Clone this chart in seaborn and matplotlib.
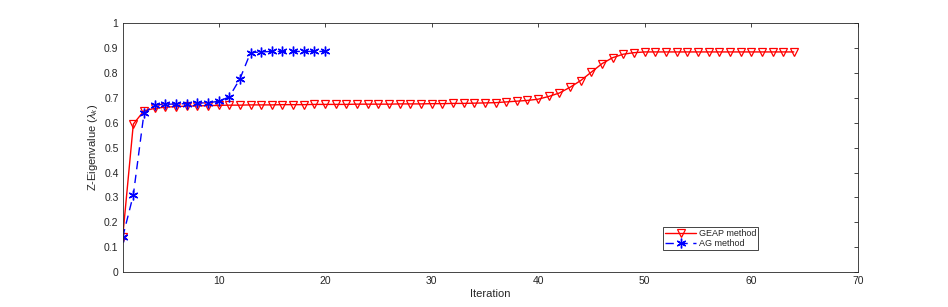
import numpy as np
import pandas as pd
import matplotlib
matplotlib.use("Agg")
import matplotlib.pyplot as plt
import seaborn as sns

geap_iter = list(range(1, 65))
geap_vals = [0.140, 0.595, 0.648, 0.658, 0.663, 0.665, 0.667, 0.668, 0.669, 0.670,
             0.671, 0.671, 0.672, 0.672, 0.672, 0.673, 0.673, 0.673, 0.674, 0.674,
             0.674, 0.674, 0.675, 0.675, 0.675, 0.675, 0.676, 0.676, 0.676, 0.677,
             0.677, 0.678, 0.678, 0.679, 0.680, 0.681, 0.684, 0.687, 0.690, 0.695,
             0.706, 0.720, 0.743, 0.770, 0.804, 0.838, 0.862, 0.876, 0.882, 0.885,
             0.885, 0.885, 0.885, 0.885, 0.885, 0.885, 0.885, 0.885, 0.885, 0.885,
             0.885, 0.885, 0.885, 0.885]
ag_iter = list(range(1, 21))
ag_vals = [0.140, 0.310, 0.638, 0.673, 0.674, 0.676, 0.677, 0.679, 0.681, 0.686,
           0.704, 0.776, 0.882, 0.885, 0.887, 0.887, 0.887, 0.887, 0.887, 0.887]

xticks = [10, 20, 30, 40, 50, 60, 70]
yticks = [0, 0.1, 0.2, 0.3, 0.4, 0.5, 0.6, 0.7, 0.8, 0.9, 1]
ytick_labels = ["0", "0.1", "0.2", "0.3", "0.4", "0.5", "0.6", "0.7", "0.8", "0.9", "1"]

sns.set_style("white")
plt.rcParams['font.family'] = ['Liberation Sans', 'DejaVu Sans']
plt.rcParams['mathtext.fontset'] = 'custom'
plt.rcParams['mathtext.rm'] = 'Liberation Sans'
plt.rcParams['mathtext.it'] = 'Liberation Sans:italic'

fig = plt.figure(figsize=(9.48, 3.07), dpi=100)
ax = fig.add_axes([0.1294, 0.114, 0.7754, 0.810])

df_g = pd.DataFrame({"Iteration": geap_iter, "val": geap_vals})
df_a = pd.DataFrame({"Iteration": ag_iter, "val": ag_vals})

sns.lineplot(data=df_g, x="Iteration", y="val", ax=ax, color="red", lw=1.0,
             marker="v", markersize=5.5, markerfacecolor="none", markeredgecolor="red",
             markeredgewidth=0.9, label="GEAP method")
sns.lineplot(data=df_a, x="Iteration", y="val", ax=ax, color="blue", lw=1.0,
             linestyle=(0, (6, 4)), marker=(6, 2, 0), markersize=7,
             markeredgecolor="blue", markeredgewidth=1.0, label="AG method")

ax.set_xlim(1, 70)
ax.set_ylim(0, 1)
ax.set_xticks(xticks)
ax.set_yticks(yticks)
ax.set_yticklabels(ytick_labels)
ax.set_xlabel("Iteration", fontsize=8, color="#262626", labelpad=2)
ax.set_ylabel(r"Z-Eigenvalue ($\lambda_k$)", fontsize=8, color="#262626", labelpad=3)
ax.tick_params(direction="in", length=3, width=0.6, colors="#262626", labelsize=7.5,
               top=True, right=True, pad=3)
for s in ax.spines.values():
    s.set_visible(True)
    s.set_color("#262626")
    s.set_linewidth(0.6)

leg = ax.legend(loc="lower left", bbox_to_anchor=(0.735, 0.088), borderaxespad=0,
                fontsize=6.5, frameon=True, fancybox=False, edgecolor="#262626",
                framealpha=1, handlelength=3.4, borderpad=0.25, labelspacing=0.1,
                handletextpad=0.3)
leg.get_frame().set_linewidth(0.6)

fig.savefig("out.png", dpi=100)
